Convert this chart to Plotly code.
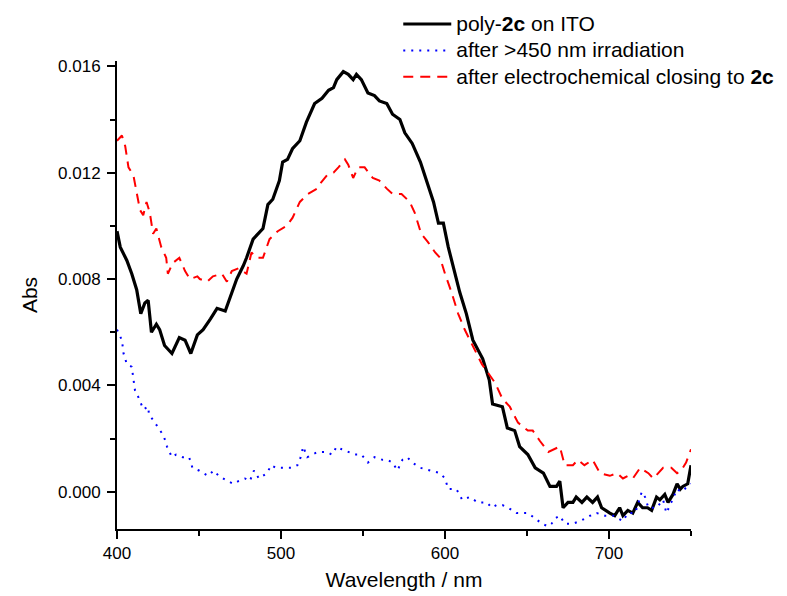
import plotly.graph_objects as go

# poly-2c on ITO (black solid)
wl_poly = [400, 402, 406, 409, 412, 414.5, 417, 419, 421, 424, 426, 429, 433.5, 438, 441.5, 445, 449, 452.5,
           457, 461, 466, 469, 473, 477, 479, 483, 489, 492, 495, 499, 501, 504, 507, 511.5, 515.5, 520.5,
           525, 529, 532, 534, 538, 541, 544, 546, 549, 553, 557, 560, 564.5, 568, 572.5, 575.5, 580, 585,
           589, 593, 596, 599, 602, 606, 609, 613, 617, 623, 627, 629, 635, 638, 642.5, 645.5, 650.5, 655,
           660, 664, 668, 670, 672, 675, 678, 680, 683.5, 686.5, 690, 693, 695.5, 700.5, 703.5, 706.5,
           708.5, 711.5, 714.5, 717.5, 720.5, 723.5, 726, 729, 731, 734, 736, 739, 741.5, 743.5, 745, 748, 750]
abs_poly = [0.0098, 0.0092, 0.0087, 0.0082, 0.0076, 0.0067, 0.0071, 0.0072, 0.0060, 0.0063, 0.0061, 0.0055,
            0.0052, 0.0058, 0.0057, 0.0052, 0.0059, 0.0061, 0.0065, 0.0069, 0.0068, 0.0073, 0.0080, 0.0085,
            0.0088, 0.0095, 0.0099, 0.0108, 0.0110, 0.0117, 0.0124, 0.0125, 0.0129, 0.0132, 0.0139, 0.0146,
            0.0148, 0.0151, 0.0152, 0.0155, 0.0158, 0.0157, 0.0155, 0.0157, 0.0155, 0.0150, 0.0149, 0.0147,
            0.0146, 0.0142, 0.0140, 0.0135, 0.0131, 0.0124, 0.0116, 0.0109, 0.0101, 0.0101, 0.0092, 0.0082,
            0.0075, 0.0067, 0.0057, 0.0050, 0.0042, 0.0033, 0.0032, 0.0024, 0.0023, 0.0017, 0.0014, 0.0009,
            0.0007, 0.0002, 0.0002, 0.0004, -0.0006, -0.0004, -0.0004, -0.0002, -0.0004, -0.0002, -0.0004,
            -0.0002, -0.0006, -0.0008, -0.0009, -0.0006, -0.0009, -0.0007, -0.0008, -0.0004, -0.0006, -0.0006,
            -0.0007, -0.0002, -0.0003, -0.0001, -0.0004, -0.0001, 0.0003, 0.0001, 0.0002, 0.0003, 0.0010]

# after >450 nm irradiation (blue dotted)
wl_irr = [400, 403, 404, 406, 409, 410, 411, 413.5, 416, 419, 419.5, 422, 425.5, 428.5, 430.5, 433.5, 436,
          440, 444, 446, 450, 455.5, 459, 462, 467.5, 471, 474, 478, 481, 483.5, 486.5, 491.5, 494, 497,
          500.5, 503, 506.5, 510, 512, 513.5, 516, 519, 522.5, 528, 531, 534, 537, 541, 545, 549, 553, 557,
          562, 565, 568, 571, 574, 577, 580, 585, 591, 597, 600, 602, 607, 610.5, 615, 620, 625.5, 628.5,
          631.5, 635, 638.5, 643.5, 647.5, 650.5, 655, 659, 663, 665, 667, 670, 673, 678, 682.5, 688.5,
          692.5, 697.5, 702.5, 708.5, 711.5, 716, 720, 722, 724, 729, 733, 735, 738, 741.5, 744, 748, 750]
abs_irr = [0.0061, 0.0057, 0.0052, 0.0048, 0.0047, 0.0042, 0.0038, 0.0035, 0.0031, 0.0032, 0.0029, 0.0027,
           0.0024, 0.0021, 0.0017, 0.0013, 0.0014, 0.0013, 0.0013, 0.0009, 0.0008, 0.0006, 0.0008, 0.0006,
           0.0004, 0.0003, 0.0004, 0.0005, 0.0004, 0.0008, 0.0005, 0.0007, 0.0010, 0.0009, 0.0009, 0.0009,
           0.0009, 0.0010, 0.0013, 0.0017, 0.0013, 0.0014, 0.0015, 0.0015, 0.0014, 0.0017, 0.0016, 0.0015,
           0.0014, 0.0014, 0.0011, 0.0013, 0.0012, 0.0012, 0.0011, 0.0008, 0.0012, 0.0013, 0.0011, 0.0009,
           0.0008, 0.0007, 0.0005, 0.0001, 0.0001, -0.0003, -0.0002, -0.0004, -0.0004, -0.0006, -0.0005,
           -0.0005, -0.0006, -0.0008, -0.0008, -0.0008, -0.0010, -0.0012, -0.0013, -0.0012, -0.0010, -0.0009,
           -0.0012, -0.0012, -0.0011, -0.0009, -0.0008, -0.0009, -0.0009, -0.0011, -0.0008, -0.0008, 0.0000,
           -0.0002, -0.0006, -0.0006, -0.0003, -0.0008, -0.0004, 0.0001, 0.0000, 0.0002, 0.0003]

# after electrochemical closing to 2c (red dashed)
wl_close = [400, 403, 405, 407, 410, 412, 414, 416, 418, 420, 422, 424, 427, 430, 431, 434, 438, 441.5, 444.5,
            449, 450.5, 455, 458.5, 464, 467, 470, 474, 479, 482, 485, 489, 493, 498, 503.5, 507, 511.5,
            516.5, 522, 524, 528, 532, 535, 539, 541, 544, 547, 551, 556, 560, 564.5, 568, 573.5, 578.5,
            581.5, 585.5, 589.5, 594, 597, 600, 604, 608, 612, 616, 620, 622.5, 630.5, 635, 639.5, 644.5,
            650.5, 653.5, 658, 663, 670, 673, 678, 681, 685, 690, 694.5, 700.5, 705, 708.5, 711.5, 714.5,
            719, 724, 727, 730, 733, 738, 741.5, 744, 747, 750]
abs_close = [0.0132, 0.0134, 0.0130, 0.0122, 0.0119, 0.0112, 0.0106, 0.0104, 0.0109, 0.0105, 0.0097, 0.0099,
             0.0092, 0.0088, 0.0082, 0.0086, 0.0088, 0.0083, 0.0080, 0.0081, 0.0080, 0.0079, 0.0081, 0.0082,
             0.0079, 0.0083, 0.0084, 0.0082, 0.0090, 0.0088, 0.0088, 0.0095, 0.0098, 0.0100, 0.0103, 0.0109,
             0.0112, 0.0114, 0.0116, 0.0119, 0.0120, 0.0122, 0.0125, 0.0123, 0.0118, 0.0122, 0.0122, 0.0118,
             0.0117, 0.0114, 0.0112, 0.0112, 0.0109, 0.0105, 0.0097, 0.0094, 0.0090, 0.0088, 0.0082, 0.0075,
             0.0067, 0.0061, 0.0056, 0.0051, 0.0048, 0.0041, 0.0035, 0.0032, 0.0026, 0.0023, 0.0023, 0.0019,
             0.0015, 0.0017, 0.0010, 0.0010, 0.0012, 0.0010, 0.0012, 0.0007, 0.0006, 0.0007, 0.0005, 0.0006,
             0.0005, 0.0009, 0.0007, 0.0005, 0.0007, 0.0009, 0.0009, 0.0007, 0.0008, 0.0011, 0.0016]

x_ticks = [400, 500, 600, 700]
y_ticks = [0.000, 0.004, 0.008, 0.012, 0.016]
legend_names = ["poly-<b>2c</b> on ITO",
                "after >450 nm irradiation",
                "after electrochemical closing to <b>2c</b>"]

FONT = "Liberation Sans, Arial, sans-serif"


def legend_label(s):
    return "<span style='font-size:21px'>" + s + "</span>"


fig = go.Figure()
fig.add_trace(go.Scatter(x=wl_poly, y=abs_poly, mode="lines", name=legend_label(legend_names[0]),
                         line=dict(color="black", width=3.2)))
fig.add_trace(go.Scatter(x=wl_irr, y=abs_irr, mode="lines", name=legend_label(legend_names[1]),
                         line=dict(color="#0000ff", width=2, dash="2px,6px")))
fig.add_trace(go.Scatter(x=wl_close, y=abs_close, mode="lines", name=legend_label(legend_names[2]),
                         line=dict(color="#ff0000", width=2, dash="10px,7px")))

axis_common = dict(showgrid=False, zeroline=False, showline=True, linecolor="black", linewidth=2,
                   ticks="outside", ticklen=8, tickwidth=2, tickcolor="black",
                   tickfont=dict(family=FONT, size=17, color="black"))

fig.update_xaxes(range=[400, 750], tickvals=x_ticks,
                 minor=dict(dtick=50, tick0=400, ticks="outside", ticklen=5, tickwidth=2, tickcolor="black"),
                 title=dict(text="Wavelength / nm", font=dict(family=FONT, size=21, color="black"), standoff=10),
                 **axis_common)
fig.update_yaxes(range=[-0.0014, 0.0162], tickvals=y_ticks, tickformat=".3f", ticklabelstandoff=3,
                 minor=dict(dtick=0.002, tick0=0, ticks="outside", ticklen=5, tickwidth=2, tickcolor="black"),
                 title=dict(text="Abs", font=dict(family=FONT, size=21, color="black"), standoff=15),
                 **axis_common)

fig.update_layout(
    width=787, height=596,
    margin=dict(l=117, r=96, t=61, b=67, autoexpand=False),
    paper_bgcolor="white", plot_bgcolor="white",
    font=dict(family=FONT, size=17, color="black"),
    legend=dict(x=0.49, xanchor="left", y=1.118, yanchor="top", bgcolor="rgba(0,0,0,0)",
                font=dict(family=FONT, size=18, color="black"), tracegroupgap=0, itemwidth=48),
    showlegend=True,
)

fig.write_html("out.html")
